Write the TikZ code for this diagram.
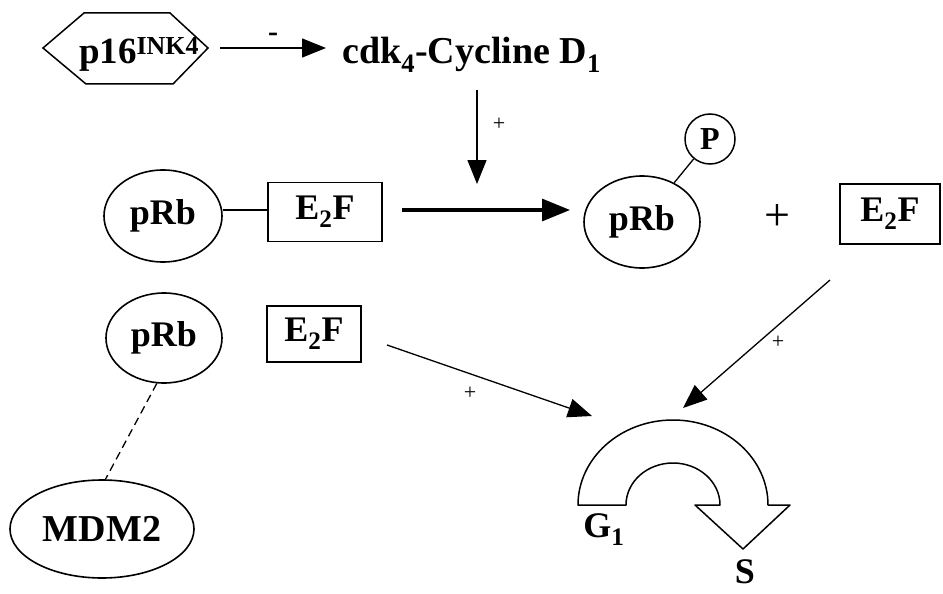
\documentclass[tikz,border=0pt]{standalone}
\usepackage{fontspec}
\setmainfont{Liberation Serif}
\usetikzlibrary{arrows.meta,shapes.geometric}
\begin{document}
\begin{tikzpicture}[x=1pt,y=-1pt,
  lab/.style={font=\fontsize{36}{40}\selectfont\bfseries, inner sep=0pt},
  small/.style={font=\fontsize{22}{24}\selectfont, inner sep=0pt},
  oval/.style={ellipse, draw, line width=1.6pt, minimum width=118pt, minimum height=92pt, lab},
  box/.style={rectangle, draw, line width=1.4pt, lab},
  arr/.style={line width=1.3pt, -{Triangle[length=24pt,width=19pt]}},
  thin/.style={line width=1.3pt}]
\useasboundingbox (0,0) rectangle (943,594);
% hexagon p16
\draw[line width=1.5pt] (43,48) -- (84,13) -- (170,13) -- (208,48) -- (173,84) -- (86,84) -- cycle;
\node[lab, font=\fontsize{37}{40}\selectfont\bfseries, anchor=base] (p16) at (139,64) {p16\textsuperscript{INK4}};
\coordinate (hexR) at (220,48);
\node[lab, font=\fontsize{38}{40}\selectfont\bfseries, anchor=base west] (cdk) at (342,64) {cdk\textsubscript{4}-Cycline D\textsubscript{1}};
\coordinate (cdkL) at (326,48);
\draw[arr] (hexR) -- (cdkL) node[midway, above=6pt, font=\fontsize{30}{30}\selectfont\bfseries, inner sep=0pt] {-};
% vertical arrow
\coordinate (vtop) at (477,90);
\coordinate (vbot) at (477,184);
\draw[arr] (vtop) -- (vbot);
\node[small] (plus1) at (499,124) {+};
% row 2
\node[oval] (prb1) at (163,216) {pRb};
\node[box, minimum width=114pt, minimum height=59pt] (e2f1) at (325,212) {E\textsubscript{2}F};
\draw[thin] (prb1.east |- 0,210) -- (e2f1.west |- 0,210);
\coordinate (tkL) at (402,210);
\coordinate (tkR) at (570,210);
\draw[line width=3.2pt, -{Triangle[length=28pt,width=22pt]}] (tkL) -- (tkR);
\node[oval, minimum width=116pt] (prb2) at (642,222) {pRb};
\node[circle, draw, line width=1.5pt, minimum size=50pt, lab, font=\fontsize{32}{34}\selectfont\bfseries] (P) at (710,139) {P};
\draw[thin] (prb2) -- (P);
\node[font=\fontsize{46}{46}\selectfont, inner sep=0pt] (plus2) at (777,218) {+};
\node[box, minimum width=100pt, minimum height=60pt] (e2f2) at (890,214) {E\textsubscript{2}F};
% row 3
\node[oval, minimum width=116pt, minimum height=90pt] (prb3) at (164,338) {pRb};
\node[box, minimum width=94pt, minimum height=56pt] (e2f3) at (314,334) {E\textsubscript{2}F};
\node[oval, minimum width=184pt, minimum height=98pt, font=\fontsize{38}{40}\selectfont\bfseries] (mdm) at (102,529) {MDM2};
\draw[thin, dashed, dash pattern=on 8pt off 5pt] (prb3.-99) -- (mdm.86);
% arrows to cycle
\coordinate (c1) at (592,416);
\coordinate (c2) at (683,408);
\coordinate (a1) at (387,345);
\coordinate (a2) at (830,280);
\draw[arr] (a1) -- (c1);
\draw[arr] (a2) -- (c2);
\node[small] at (470,393) {+};
\node[small] at (778,342) {+};
% cycle arrow
\draw[line width=1.5pt, line join=round] (578,505) arc[start angle=180, end angle=360, x radius=95, y radius=85]
  -- (790,505) -- (743,549) -- (695,505) -- (720,505)
  arc[start angle=360, end angle=180, x radius=47, y radius=42] -- cycle;
\node[lab] (g1) at (604,530) {G\textsubscript{1}};
\node[lab, anchor=base] (s) at (745,583) {S};
\end{tikzpicture}
\end{document}
